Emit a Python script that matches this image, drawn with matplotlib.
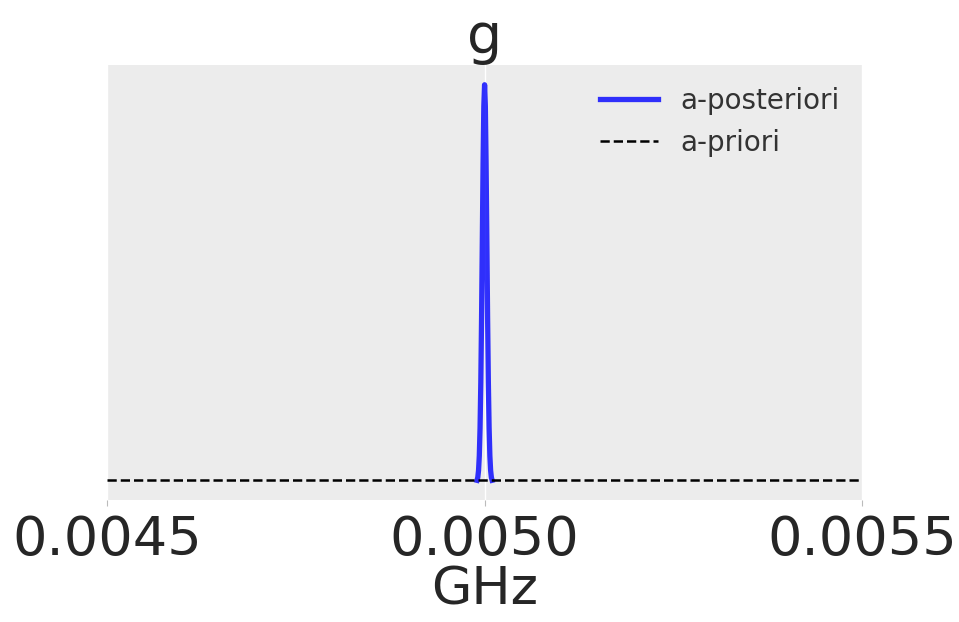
import matplotlib
matplotlib.use("Agg")
import matplotlib.pyplot as plt

# posterior density around the peak (GHz, arbitrary density units)
post_x = [0.004990, 0.004991, 0.004992, 0.004993, 0.004994, 0.004995, 0.004996,
          0.004997, 0.004998, 0.004999, 0.005000, 0.005001, 0.005002, 0.005003,
          0.005004, 0.005005, 0.005006, 0.005007, 0.005008, 0.005009, 0.005010]
post_y = [510, 1500, 3800, 8700, 18000, 33200, 54700, 80700, 106500, 125800, 133000,
          125800, 106500, 80700, 54700, 33200, 18000, 8700, 3800, 1500, 510]

# flat prior
prior_x = [0.0045, 0.0055]
prior_y = [510, 510]

xticks = [0.0045, 0.0050, 0.0055]
xticklabels = ["0.0045", "0.0050", "0.0055"]

fig = plt.figure(figsize=(9.59, 6.22), dpi=100)
ax = fig.add_axes([0.1116, 0.196, 0.7874, 0.6995])
ax.set_facecolor("#ececec")

ax.plot(post_x, post_y, color="blue", alpha=0.8, lw=3.8, label="a-posteriori")
ax.plot(prior_x, prior_y, color="black", ls="--", lw=1.8, label="a-priori")

ax.set_xlim(0.0045, 0.0055)
ax.margins(y=0.05)
ax.set_xticks(xticks)
ax.set_xticklabels(xticklabels)
ax.set_yticks([])
ax.grid(axis="x", color="white", lw=1)
ax.set_axisbelow(True)
for s in ax.spines.values():
    s.set_visible(False)
ax.tick_params(axis="x", length=4, color="#bbbbbb", labelsize=39, labelcolor="#262626", pad=6)

ax.set_xlabel("GHz", fontsize=37.5, color="#262626", labelpad=0)
ax.set_title("g", fontsize=40, color="#262626", pad=1)

leg = ax.legend(loc="upper right", frameon=False, fontsize=20, handlelength=2.1,
                borderaxespad=0.4)
for t in leg.get_texts():
    t.set_color("#333333")

fig.savefig("out.png", dpi=100)
